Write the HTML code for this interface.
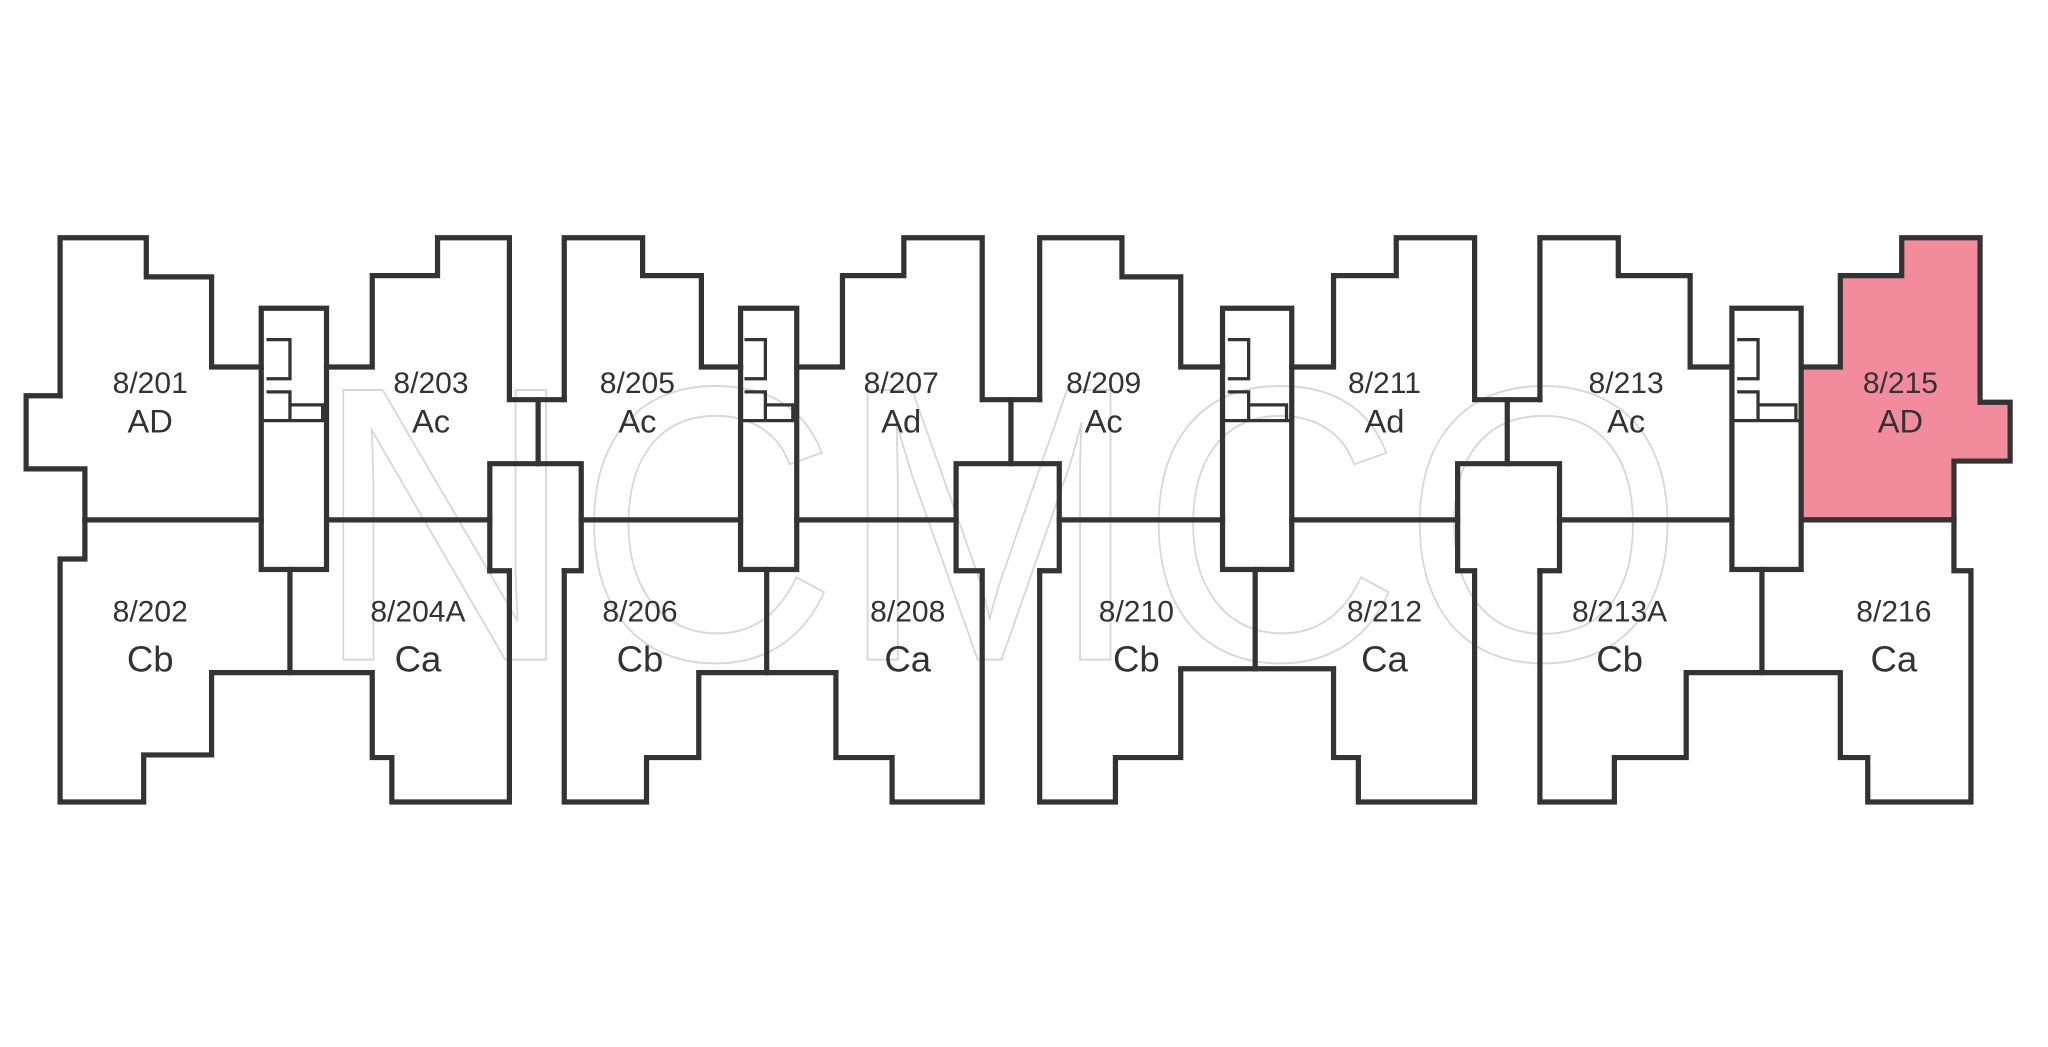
<!DOCTYPE html>
<html><head><meta charset="utf-8"><style>
html,body{margin:0;padding:0;background:#fff;}
svg{display:block;}
.lbl text{font-family:"Liberation Sans",sans-serif;fill:#333;}
</style></head><body>
<svg width="2048" height="1047" viewBox="0 0 1568 801.6" preserveAspectRatio="none" xmlns="http://www.w3.org/2000/svg">
<rect width="1568" height="802" fill="#fff"/>
<!-- pink unit -->
<path d="M1379,281 H1409 V211 H1456 V182 H1516 V308 H1539 V353 H1496 V398 H1379 Z" fill="#f28c9c"/>
<!-- watermark -->
<text x="240" y="505" font-size="300" style="fill:none;stroke:#d8d8d8;stroke-width:1.5;font-family:'Liberation Sans',sans-serif" textLength="1050" lengthAdjust="spacingAndGlyphs">NCMCO</text>
<g fill="none" stroke="#333" stroke-width="4" stroke-linejoin="miter" stroke-linecap="square">
<!-- b1 -->
<path d="M46,303 V182 H112 V212 H162 V281 H200"/>
<path d="M250,281 H285 V211 H335 V182 H390 V306 H432"/>
<path d="M412,306 V355"/>
<path d="M375,437 V355 H445 V437 H432"/>
<path d="M375,437 H390 V614 H300 V580 H285 V515 H162 V578 H110 V614 H46 V428 H65 V359 H20 V303 H46"/>
<path d="M222,436 V515"/>
<!-- b2 -->
<path d="M432,306 V182 H492 V211 H537 V281 H567"/>
<path d="M432,437 V614 H495 V580 H535 V515 H640 V580 H683 V614 H752 V437 H732 V355 H811 V437 H796"/>
<path d="M587,436 V515"/>
<path d="M610,281 H645 V211 H692 V182 H752 V306 H796"/>
<path d="M774,306 V355"/>
<!-- b3 -->
<path d="M796,306 V182 H859 V212 H904 V281 H936"/>
<path d="M989,281 H1021 V211 H1069 V182 H1129 V306 H1179"/>
<path d="M1154,306 V355"/>
<path d="M796,437 V614 H854 V580 H904 V512 H1021 V580 H1040 V614 H1129 V437 H1116 V355 H1194 V437 H1179"/>
<path d="M961,436 V512"/>
<!-- b4 -->
<path d="M1179,306 V182 H1239 V211 H1294 V281 H1326"/>
<path d="M1179,437 V614 H1236 V580 H1291 V515 H1409 V580 H1430 V614 H1509 V437 H1496 V398"/>
<path d="M1349,436 V515"/>
<path d="M1379,281 H1409 V211 H1456 V182 H1516 V308 H1539 V353 H1496 V398 H1379"/>
<!-- cores -->
<rect x="200" y="236" width="50" height="200"/>
<rect x="567" y="236" width="43" height="200"/>
<rect x="936" y="236" width="53" height="200"/>
<rect x="1326" y="236" width="53" height="200"/>
<!-- middle walls -->
<path d="M65,398 H200 M250,398 H375 M445,398 H567 M610,398 H732 M811,398 H936 M989,398 H1116 M1194,398 H1326 M1379,398 H1496"/>
</g>
<!-- stair details -->
<g fill="none" stroke="#333" stroke-width="2.5">
<path d="M200,322 H250 M204,260 H222 V290 H204 M204,300 H222 V322 M222,310 H247 V322"/>
<path d="M567,322 H610 M570,260 H586 V290 H570 M570,300 H586 V322 M586,310 H607 V322"/>
<path d="M936,322 H989 M940,260 H956 V290 H940 M940,300 H956 V322 M956,310 H985 V322"/>
<path d="M1326,322 H1379 M1330,260 H1346 V290 H1330 M1330,300 H1346 V322 M1346,310 H1375 V322"/>
</g>
<g class="lbl" font-size="23" text-anchor="middle">
<text x="115" y="301">8/201</text><text x="115" y="331" font-size="25">AD</text>
<text x="330" y="301">8/203</text><text x="330" y="331" font-size="25">Ac</text>
<text x="488" y="301">8/205</text><text x="488" y="331" font-size="25">Ac</text>
<text x="690" y="301">8/207</text><text x="690" y="331" font-size="25">Ad</text>
<text x="845" y="301">8/209</text><text x="845" y="331" font-size="25">Ac</text>
<text x="1060" y="301">8/211</text><text x="1060" y="331" font-size="25">Ad</text>
<text x="1245" y="301">8/213</text><text x="1245" y="331" font-size="25">Ac</text>
<text x="1455" y="301">8/215</text><text x="1455" y="331" font-size="25">AD</text>
<text x="115" y="476">8/202</text><text x="115" y="514" font-size="28">Cb</text>
<text x="320" y="476">8/204A</text><text x="320" y="514" font-size="28">Ca</text>
<text x="490" y="476">8/206</text><text x="490" y="514" font-size="28">Cb</text>
<text x="695" y="476">8/208</text><text x="695" y="514" font-size="28">Ca</text>
<text x="870" y="476">8/210</text><text x="870" y="514" font-size="28">Cb</text>
<text x="1060" y="476">8/212</text><text x="1060" y="514" font-size="28">Ca</text>
<text x="1240" y="476">8/213A</text><text x="1240" y="514" font-size="28">Cb</text>
<text x="1450" y="476">8/216</text><text x="1450" y="514" font-size="28">Ca</text>
</g>
</svg>
</body></html>
